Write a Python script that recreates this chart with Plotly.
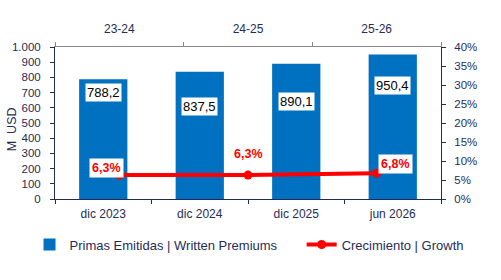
import plotly.graph_objects as go

# ---- data ----
categories = ["dic 2023", "dic 2024", "dic 2025", "jun 2026"]
premiums = [788.2, 837.5, 890.1, 950.4]
periods = ["23-24", "24-25", "25-26"]
growth = [0.063, 0.063, 0.068]
premium_labels = ["788,2", "837,5", "890,1", "950,4"]
growth_labels = ["6,3%", "6,3%", "6,8%"]
y_title = "M  USD"

# ---- style ----
BLUE = "#0070C0"
RED = "#FF0000"
NAVY = "#1F2D55"
FONT = "Liberation Sans, Arial, sans-serif"
bar_label_shift = [-13, -35, -38, -31]
growth_label_xshift = [-13, 0, 19]
growth_label_yshift = [7, 21, 9]

fig = go.Figure()
fig.add_trace(go.Bar(
    x=categories, y=premiums, name="Primas Emitidas | Written Premiums",
    marker=dict(color=BLUE, line=dict(width=0)), width=0.5,
    xaxis="x", yaxis="y", legend="legend",
))
fig.add_trace(go.Scatter(
    x=periods, y=growth, name="Crecimiento | Growth",
    mode="lines+markers", line=dict(color=RED, width=4),
    marker=dict(color=RED, size=9),
    xaxis="x2", yaxis="y2", legend="legend2",
))

annotations = []
for c, v, t, s in zip(categories, premiums, premium_labels, bar_label_shift):
    annotations.append(dict(
        x=c, y=v, xref="x", yref="y", text=t, showarrow=False,
        yshift=s, font=dict(family=FONT, size=13, color="black"),
        bgcolor="white", borderpad=1,
    ))
for p, g, t, xs, ys in zip(periods, growth, growth_labels,
                           growth_label_xshift, growth_label_yshift):
    annotations.append(dict(
        x=p, y=g, xref="x2", yref="y2", text="<b>" + t + "</b>", showarrow=False,
        xshift=xs, yshift=ys, font=dict(family=FONT, size=12.5, color=RED),
        bgcolor="white", borderpad=2,
    ))
# y-axis title placed as rotated text
annotations.append(dict(
    x=-0.111, y=0.46, xref="paper", yref="paper", text=y_title, showarrow=False,
    textangle=-90, xanchor="center", yanchor="middle",
    font=dict(family=FONT, size=12.5, color=NAVY),
))

xaxis_font = dict(family=FONT, size=12, color=NAVY)
yaxis_font = dict(family=FONT, size=11.5, color=NAVY)
legend_font = dict(family=FONT, size=13, color=NAVY)

fig.update_layout(
    width=501, height=280,
    margin=dict(l=55, r=60, t=47, b=81, autoexpand=False),
    paper_bgcolor="white", plot_bgcolor="white",
    separators=",.",
    font=dict(family=FONT, size=12, color=NAVY),
    showlegend=True,
    legend=dict(
        orientation="h", x=-0.066, xanchor="left", y=-0.30, yanchor="middle",
        font=legend_font, itemwidth=30, bgcolor="rgba(0,0,0,0)",
    ),
    legend2=dict(
        orientation="h", x=0.639, xanchor="left", y=-0.30, yanchor="middle",
        font=legend_font, itemwidth=30, bgcolor="rgba(0,0,0,0)",
    ),
    annotations=annotations,
    xaxis=dict(
        type="category", categoryorder="array", categoryarray=categories,
        showline=True, linecolor=NAVY, linewidth=1,
        ticks="outside", tickson="boundaries", ticklen=4, tickcolor=NAVY,
        tickfont=xaxis_font, showgrid=False, zeroline=False, automargin=False,
        ticklabelstandoff=4, range=[-0.5, 3.5],
    ),
    xaxis2=dict(
        type="category", categoryorder="array", categoryarray=periods,
        overlaying="x", side="top", anchor="y",
        showline=True, linecolor="#888888", linewidth=1,
        ticks="outside", tickson="boundaries", ticklen=4, tickcolor="#888888",
        tickfont=xaxis_font, showgrid=False, zeroline=False, automargin=False,
        ticklabelstandoff=8, range=[-0.5, 2.5],
    ),
    yaxis=dict(
        range=[0, 1000], dtick=100, separatethousands=True,
        showline=True, linecolor=NAVY, linewidth=1,
        ticks="outside", ticklen=4, tickcolor=NAVY,
        tickfont=yaxis_font, showgrid=False, zeroline=False, automargin=False,
        ticklabelstandoff=7,
    ),
    yaxis2=dict(
        range=[0, 0.4], dtick=0.05, tickformat=".0%",
        overlaying="y", side="right", anchor="x",
        showline=True, linecolor=NAVY, linewidth=1,
        ticks="outside", ticklen=4, tickcolor=NAVY,
        tickfont=yaxis_font, showgrid=False, zeroline=False, automargin=False,
        ticklabelstandoff=6,
    ),
)

fig.write_html("out.html")
